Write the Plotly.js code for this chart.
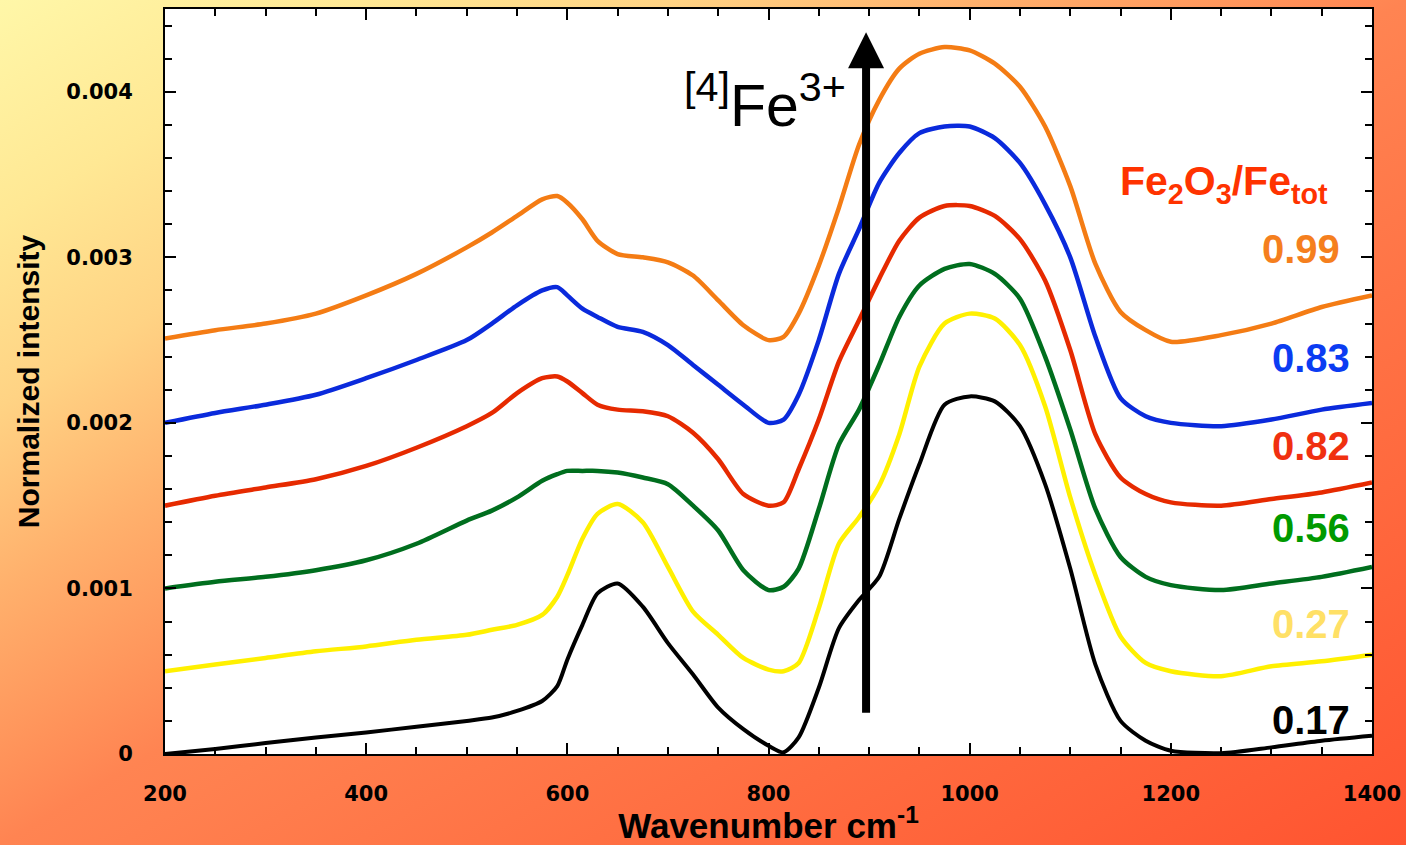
<!DOCTYPE html>
<html>
<head>
<meta charset="utf-8">
<script src="https://cdn.plot.ly/plotly-3.0.1.min.js"></script>
<style>
  html, body { margin: 0; padding: 0; }
  body {
    width: 1406px; height: 845px; overflow: hidden;
    background: linear-gradient(149deg, #FFF7A8 0%, #FFE894 13%, #FFD384 24%, #FFB06C 35%, #FF935A 45%, #FF8452 50%, #FF6C40 75%, #FF5430 100%);
  }
  #chart { width: 1406px; height: 845px; }
</style>
</head>
<body>
<div id="chart"></div>
<script>
// ---- data ----
const wavenumber = [200,250,300,350,400,450,500,525,550,575,590,600,615,630,650,675,700,725,750,775,800,815,830,850,870,890,910,930,950,975,1000,1025,1050,1075,1100,1125,1150,1175,1200,1250,1300,1350,1400];

const ratio099 = [0.00251,0.00256,0.00260,0.00266,0.00277,0.00290,0.00306,0.00315,0.00325,0.00335,0.00337,0.00333,0.00323,0.00310,0.00302,0.00300,0.00297,0.00289,0.00274,0.00259,0.00250,0.00252,0.00266,0.00295,0.00330,0.00368,0.00395,0.00414,0.00423,0.00427,0.00425,0.00417,0.00403,0.00379,0.00343,0.00296,0.00267,0.00256,0.00249,0.00253,0.00260,0.00270,0.00277];
const ratio083 = [0.00200,0.00206,0.00211,0.00217,0.00227,0.00238,0.00250,0.00260,0.00271,0.00280,0.00282,0.00277,0.00269,0.00264,0.00258,0.00255,0.00247,0.00235,0.00223,0.00211,0.00200,0.00202,0.00217,0.00250,0.00290,0.00317,0.00345,0.00363,0.00375,0.00379,0.00379,0.00372,0.00357,0.00332,0.00300,0.00252,0.00215,0.00204,0.00200,0.00198,0.00202,0.00208,0.00212];
const ratio082 = [0.00150,0.00156,0.00161,0.00166,0.00174,0.00185,0.00198,0.00206,0.00218,0.00227,0.00228,0.00225,0.00218,0.00211,0.00208,0.00207,0.00204,0.00194,0.00178,0.00157,0.00150,0.00152,0.00172,0.00202,0.00237,0.00262,0.00287,0.00310,0.00324,0.00331,0.00331,0.00325,0.00311,0.00286,0.00244,0.00193,0.00167,0.00157,0.00152,0.00150,0.00154,0.00158,0.00164];
const ratio056 = [0.00100,0.00104,0.00107,0.00111,0.00117,0.00127,0.00141,0.00147,0.00155,0.00165,0.00169,0.00171,0.00171,0.00171,0.00170,0.00167,0.00163,0.00150,0.00135,0.00111,0.00099,0.00101,0.00112,0.00148,0.00187,0.00208,0.00235,0.00264,0.00283,0.00293,0.00296,0.00290,0.00275,0.00240,0.00196,0.00148,0.00119,0.00107,0.00102,0.00099,0.00103,0.00107,0.00113];
const ratio027 = [0.00050,0.00054,0.00058,0.00062,0.00065,0.00069,0.00072,0.00075,0.00078,0.00084,0.00095,0.00108,0.00130,0.00145,0.00151,0.00140,0.00113,0.00086,0.00072,0.00058,0.00051,0.00050,0.00055,0.00088,0.00127,0.00143,0.00162,0.00193,0.00234,0.00260,0.00266,0.00263,0.00247,0.00210,0.00155,0.00108,0.00071,0.00055,0.00050,0.00047,0.00053,0.00056,0.00060];
const ratio017 = [0.00000,0.00003,0.000066,0.00010,0.00013,0.000165,0.00020,0.00022,0.00026,0.00032,0.00041,0.00057,0.00078,0.00097,0.00103,0.00089,0.00067,0.00048,0.00028,0.00015,0.00005,0.00001,0.00010,0.00040,0.00076,0.00093,0.00107,0.00142,0.00175,0.00211,0.00216,0.00213,0.00198,0.00163,0.00112,0.00054,0.00020,0.00008,0.00002,0.000005,0.00004,0.00008,0.00011];

const seriesLabels = ['0.99','0.83','0.82','0.56','0.27','0.17'];
const seriesValues = [ratio099, ratio083, ratio082, ratio056, ratio027, ratio017];

const xTickVals = [200,400,600,800,1000,1200,1400];
const xTickText = ['200','400','600','800','1000','1200','1400'];
const yTickVals = [0,0.001,0.002,0.003,0.004];
const yTickText = ['0','0.001','0.002','0.003','0.004'];

// ---- styles ----
const lineColors  = ['#F47C14','#0A2ADC','#E62A00','#006E1E','#FFF000','#000000'];
const labelColors = ['#F57F1E','#0B3CF2','#F03010','#009A00','#FFE066','#000000'];
const labelY      = [0.00305,0.00239,0.00186,0.001365,0.000785,0.000205];
const labelX      = [1370,1380,1380,1380,1380,1380];

const traces = seriesValues.map((vals, i) => ({
  x: wavenumber,
  y: vals,
  type: 'scatter',
  mode: 'lines',
  name: seriesLabels[i],
  line: { color: lineColors[i], width: i === 5 ? 4 : 4.5, shape: 'spline', smoothing: 0.7 },
  hoverinfo: 'x+y+name'
}));

const numFont = 'Liberation Sans, Arial, sans-serif';
const tickFont = 'DejaVu Sans, Verdana, sans-serif';

const annotations = seriesLabels.map((t, i) => ({
  x: labelX[i], y: labelY[i], xref: 'x', yref: 'y',
  text: '<b>' + t + '</b>', showarrow: false,
  xanchor: 'right', yanchor: 'middle',
  font: { family: numFont, size: 40, color: labelColors[i] }
}));

annotations.push({
  x: 1358, y: 0.00344, xref: 'x', yref: 'y',
  text: '<b>Fe<sub>2</sub>O<sub>3</sub>/Fe<sub>tot</sub></b>', showarrow: false,
  xanchor: 'right', yanchor: 'middle',
  font: { family: numFont, size: 41, color: '#FF3300' }
});

annotations.push({
  x: 879, y: 0.00394, xref: 'x', yref: 'y',
  text: '<sup>[4]</sup>Fe<sup>3+</sup>', showarrow: false,
  xanchor: 'right', yanchor: 'middle',
  font: { family: numFont, size: 59, color: '#000000' }
});

// arrow
annotations.push({
  x: 897, y: 0.00436, xref: 'x', yref: 'y',
  ax: 897, ay: 0.00024, axref: 'x', ayref: 'y',
  text: '', showarrow: true,
  arrowhead: 2, arrowsize: 0.9, arrowwidth: 8, arrowcolor: '#000000'
});

const layout = {
  width: 1406, height: 845,
  paper_bgcolor: 'rgba(0,0,0,0)',
  plot_bgcolor: '#FFFFFF',
  margin: { l: 165, r: 34, t: 9, b: 91 },
  showlegend: false,
  xaxis: {
    range: [200, 1400],
    tickvals: xTickVals, ticktext: xTickText,
    ticks: 'inside', ticklen: 11, tickwidth: 2, tickcolor: '#000',
    minor: { dtick: 50, tick0: 200, ticks: 'inside', ticklen: 7, tickwidth: 2, tickcolor: '#000' },
    showline: true, linecolor: '#000', linewidth: 2, mirror: 'ticks',
    showgrid: false, zeroline: false,
    ticklabelstandoff: 20,
    tickfont: { family: tickFont, size: 21, color: '#000', weight: 'bold' },
    title: { text: '<b>Wavenumber cm<sup>-1</sup></b>', standoff: 27,
             font: { family: numFont, size: 35, color: '#000' } }
  },
  yaxis: {
    range: [0, 0.0045],
    tickvals: yTickVals, ticktext: yTickText,
    ticks: 'inside', ticklen: 11, tickwidth: 2, tickcolor: '#000',
    minor: { dtick: 0.0002, tick0: 0, ticks: 'inside', ticklen: 7, tickwidth: 2, tickcolor: '#000' },
    showline: true, linecolor: '#000', linewidth: 2, mirror: 'ticks',
    showgrid: false, zeroline: false,
    ticklabelstandoff: 26,
    tickfont: { family: tickFont, size: 21, color: '#000', weight: 'bold' },
    title: { text: '<b>Normalized intensity</b>', standoff: 18,
             font: { family: numFont, size: 30, color: '#000' } }
  },
  annotations: annotations
};

Plotly.newPlot('chart', traces, layout, { displayModeBar: false, staticPlot: false });
</script>
</body>
</html>
